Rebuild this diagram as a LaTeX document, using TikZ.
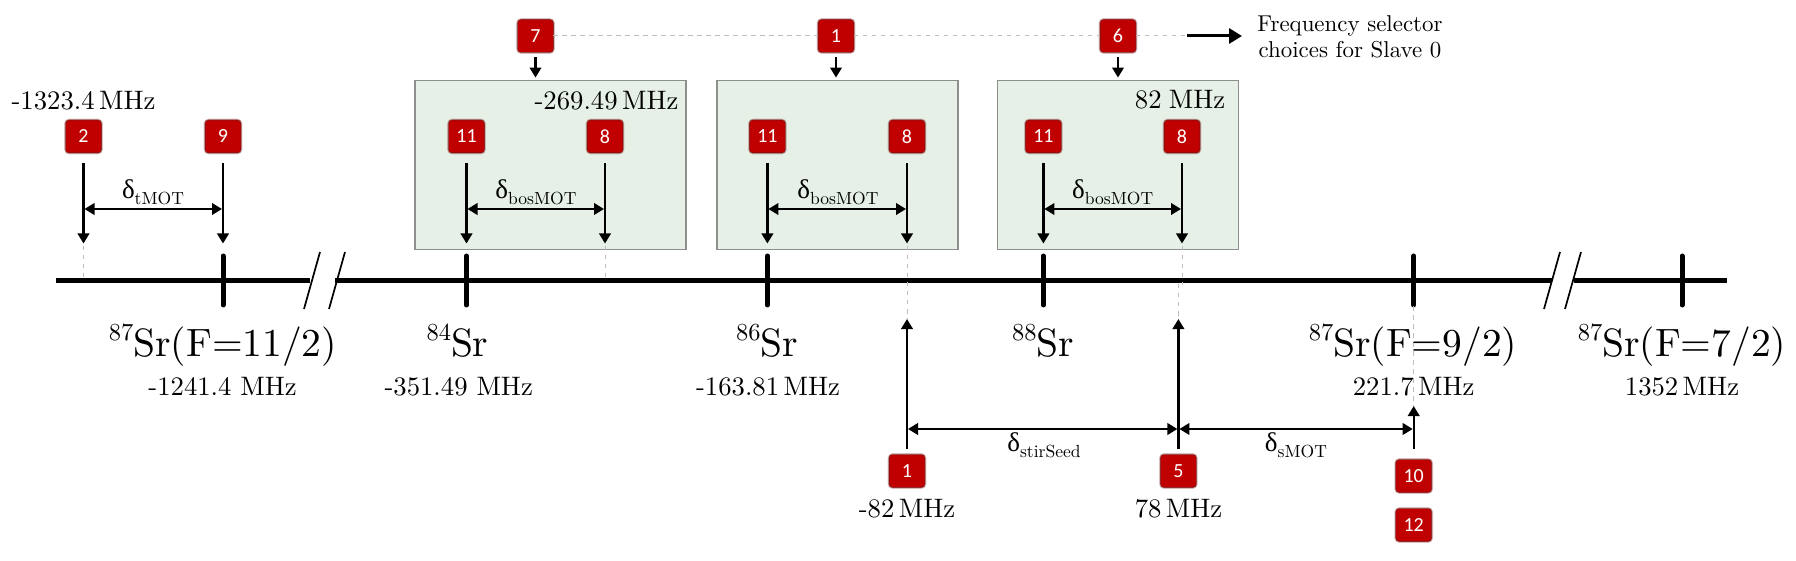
\documentclass[tikz,border=0pt]{standalone}
\usepackage{fontspec}
\usetikzlibrary{arrows.meta,calc}
\newfontfamily\grk{Liberation Serif}
\newfontfamily\cali{Carlito}
\definecolor{boxred}{HTML}{C00000}
\definecolor{boxdark}{HTML}{700000}
\definecolor{panel}{HTML}{E6F0E6}
\definecolor{panelline}{HTML}{8C8F8C}
\definecolor{dashgrey}{HTML}{BDBDBD}
\newcommand{\isosup}[1]{\raisebox{0.42em}{\scalebox{0.62}{#1}}}
\newcommand{\dlt}[1]{{\grk δ}\raisebox{-0.22em}{\scalebox{0.65}{#1}}}
\tikzset{
  x=1pt,y=-1pt,
  redbox/.style={rounded corners=3pt,fill=boxred,minimum width=35pt,minimum height=32pt,inner sep=0pt,text=white,
    font=\fontsize{20}{22}\selectfont\cali,
    preaction={draw=boxdark,line width=3.6pt,opacity=.22,rounded corners=3pt},
    preaction={draw=boxdark,line width=2.2pt,opacity=.45,rounded corners=3pt},
    preaction={draw=boxdark,line width=1pt,opacity=.8,rounded corners=3pt}},
  panelbox/.style={draw=panelline,fill=panel,line width=1.9pt,inner sep=0pt},
  axisline/.style={line width=5pt,black},
  tick/.style={line width=5pt,line cap=round,black},
  breakline/.style={line width=1.7pt,black},
  vec/.style={line width=2.2pt,-{Triangle[length=10pt,width=11.5pt]},black},
  dbl/.style={line width=2.2pt,{Triangle[length=10pt,width=11.5pt]}-{Triangle[length=10pt,width=11.5pt]},black,shorten <=1pt,shorten >=1pt},
  guide/.style={line width=1pt,dashgrey,dash pattern=on 4.5pt off 4.5pt},
  lab/.style={anchor=base,inner sep=0pt,font=\fontsize{10}{12}\selectfont},
  dellab/.style={lab,scale=2.7},
  biglab/.style={lab,scale=3.95},
  medlab/.style={lab,scale=2.67},
}
\begin{document}
\begin{tikzpicture}
\useasboundingbox (0,0) rectangle (1796,561);
% panels
\node[panelbox,minimum width=271pt,minimum height=169pt] (p1) at (550.5,165) {};
\node[panelbox,minimum width=240.5pt,minimum height=169pt] (p2) at (837.5,165) {};
\node[panelbox,minimum width=241pt,minimum height=169pt] (p3) at (1118,165) {};
% axis
\coordinate (a0) at (56,281); \coordinate (a1) at (310,281);
\coordinate (a2) at (335,281); \coordinate (a3) at (1552,281);
\coordinate (a4) at (1574,281); \coordinate (a5) at (1727,281);
\draw[axisline] (a0) -- (a1);
\draw[axisline] (a2) -- (a3);
\draw[axisline] (a4) -- (a5);
\draw[breakline] (320,252) -- (304,309);
\draw[breakline] (345,252) -- (329,309);
\draw[breakline] (1560,252) -- (1544,309);
\draw[breakline] (1581,252) -- (1565,309);
% ticks
\foreach \x in {223,466.5,767.4,1043.4,1413.7,1682}{\draw[tick] (\x,256) -- (\x,305);}
% guides
\coordinate (g2a) at (83.5,246); \coordinate (g2b) at (83.5,281);
\coordinate (g8a) at (605,246); \coordinate (g8b) at (605,281);
\coordinate (g82a) at (907,246); \coordinate (g82b) at (907,319);
\coordinate (g83a) at (1182,246); \coordinate (g83b) at (1182,285);
\coordinate (g5a) at (1178.4,284); \coordinate (g5b) at (1178.4,319);
\coordinate (g10a) at (1413.7,306); \coordinate (g10b) at (1413.7,406);
\draw[guide] (g2a) -- (g2b);
\draw[guide] (g8a) -- (g8b);
\draw[guide] (g82a) -- (g82b);
\draw[guide] (g83a) -- (g83b);
\draw[guide] (g5a) -- (g5b);
\draw[guide] (g10a) -- (g10b);
% top row
\node[redbox] (t7) at (535.5,36) {7};
\node[redbox] (t1) at (836,36) {1};
\node[redbox] (t6) at (1118,36) {6};
\coordinate (sel0) at (1187,36); \coordinate (sel1) at (1242,36);
\draw[guide] (t7.east) -- (t1.west);
\draw[guide] (t1.east) -- (t6.west);
\draw[guide] (t6.east) -- (sel0);
\draw[line width=3pt,-{Triangle[length=13pt,width=15pt]}] (sel0) -- (sel1);
\node[anchor=west,inner sep=0pt,align=center,scale=2.29,font=\fontsize{10}{11.4}\selectfont] (seltxt) at (1257,36.5) {Frequency selector\\choices for Slave 0};
\foreach \n/\p in {t7/p1,t1/p2,t6/p3}{\draw[vec,shorten <=5pt,shorten >=2pt] (\n.south) -- (\n.south |- \p.north);}
% upper boxes
\node[redbox] (b2) at (83.5,136.5) {2};
\node[redbox] (b9) at (223,136.5) {9};
\node[redbox] (c11) at (466.5,136.5) {11};
\node[redbox] (c8) at (605,136.5) {8};
\node[redbox] (d11) at (767.4,136.5) {11};
\node[redbox] (d8) at (907,136.5) {8};
\node[redbox] (e11) at (1043.4,136.5) {11};
\node[redbox] (e8) at (1182,136.5) {8};
\foreach \n in {b2,b9,c11,c8,d11,d8,e11,e8}{
  \coordinate (\n e) at ($(\n |- 0,243.5)$);
  \coordinate (\n m) at ($(\n |- 0,209)$);
  \draw[vec,shorten <=10.5pt] (\n.south) -- (\n e);
}
\draw[dbl] (b2m) -- (b9m);
\draw[dbl] (c11m) -- (c8m);
\draw[dbl] (d11m) -- (d8m);
\draw[dbl] (e11m) -- (e8m);
% delta labels upper
\node[dellab] (dt) at (153,199) {\dlt{tMOT}};
\node[dellab] (db1) at (536,199) {\dlt{bosMOT}};
\node[dellab] (db2) at (838,199) {\dlt{bosMOT}};
\node[dellab] (db3) at (1112.7,199) {\dlt{bosMOT}};
% values top
\node[medlab] (v1) at (83.5,110) {-1323.4\,MHz};
\node[medlab,anchor=base east] (v2) at (679,110) {-269.49\,MHz};
\node[medlab,anchor=base east] (v3) at (1225.7,109) {82\hspace{2.7pt}MHz};
% isotope labels
\node[biglab] (s1) at (223,356.7) {\isosup{87}Sr(F=11/2)};
\node[biglab] (s2) at (457.5,356.7) {\isosup{84}Sr};
\node[biglab] (s3) at (767,356.7) {\isosup{86}Sr};
\node[biglab] (s4) at (1043,356.7) {\isosup{88}Sr};
\node[biglab] (s5) at (1413,356.7) {\isosup{87}Sr(F=9/2)};
\node[biglab] (s6) at (1682,356.7) {\isosup{87}Sr(F=7/2)};
\node[medlab] (f1) at (222.6,395.7) {-1241.4 MHz};
\node[medlab] (f2) at (458.7,395.7) {-351.49 MHz};
\node[medlab] (f3) at (768,395.7) {-163.81\,MHz};
\node[medlab] (f5) at (1413.7,395.7) {221.7\,MHz};
\node[medlab] (f6) at (1682,395.7) {1352\,MHz};
% lower boxes
\node[redbox] (l1) at (907,471) {1};
\node[redbox] (l5) at (1178.4,471) {5};
\node[redbox] (l10) at (1413.7,476) {10};
\node[redbox] (l12) at (1413.7,525) {12};
\coordinate (u1) at (907,319); \coordinate (u5) at (1178.4,319); \coordinate (u10) at (1413.7,406);
\coordinate (m1) at (907,429); \coordinate (m5) at (1178.4,429); \coordinate (m10) at (1413.7,429);
\draw[vec,shorten <=6pt] (l1.north) -- (u1);
\draw[vec,shorten <=6pt] (l5.north) -- (u5);
\draw[vec,shorten <=11pt] (l10.north) -- (u10);
\draw[dbl] (m1) -- (m5);
\draw[dbl] (m5) -- (m10);
\node[dellab] (d4) at (1044,451.7) {\dlt{stirSeed}};
\node[dellab] (d5) at (1296,451.7) {\dlt{sMOT}};
\node[medlab] (v4) at (907,517.7) {-82\,MHz};
\node[medlab] (v5) at (1178.5,517.7) {78\,MHz};
\end{tikzpicture}
\end{document}
